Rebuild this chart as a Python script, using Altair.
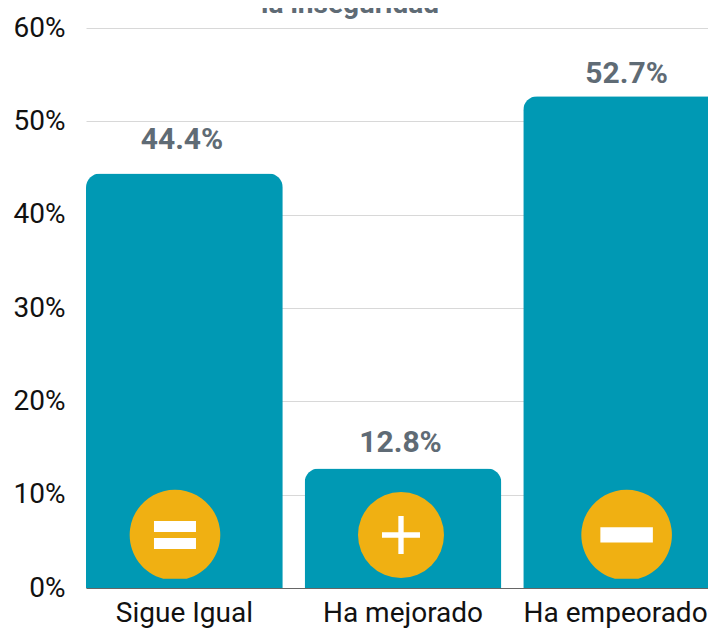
import altair as alt
import pandas as pd

categories = ["Sigue Igual", "Ha mejorado", "Ha empeorado"]
values = [44.4, 12.8, 52.7]
value_labels = ["44.4%", "12.8%", "52.7%"]
y_ticks = [0, 10, 20, 30, 40, 50, 60]
icon_level = 5.68
title_text = "la inseguridad"

TEAL = "#0099B4"
AMBER = "#F0B012"
SLATE = "#5F6B75"
FONT = "Roboto"

EQUAL = "M-1,-0.67 H1 V-0.14 H-1 Z M-1,0.14 H1 V0.67 H-1 Z"
PLUS = "M-0.14,-1 H0.14 V-0.14 H1 V0.14 H0.14 V1 H-0.14 V0.14 H-1 V-0.14 H-0.14 Z"
MINUS = "M-1,-0.29 H1 V0.29 H-1 Z"
DISC_FLAT = "M-0.258,0.966 A1,1 0 1 1 0.258,0.966 Z"

df = pd.DataFrame({"cat": categories, "val": values, "lab": value_labels})
df["icon"] = icon_level

x_scale = alt.Scale(paddingInner=0.1, paddingOuter=0, range=[0, 634])
y_scale = alt.Scale(domain=[0, 60], nice=False)
x_axis = alt.Axis(
    title=None, labelAngle=0, ticks=False, labelPadding=11, labelFontSize=28,
    labelFont=FONT, labelColor="#111111", domainColor="#666666", grid=False,
    labelLimit=400, labelBound=False, labelOverlap=False,
    labelOffset={"condition": {"test": "datum.value == 'Ha empeorado'", "value": -6}, "value": 0},
)
y_axis = alt.Axis(
    title=None, values=y_ticks, labelExpr="datum.value + '%'",
    ticks=False, domain=False, labelPadding=21, labelFontSize=28, labelFont=FONT,
    labelColor="#111111", gridColor="#D8D8D8", gridWidth=1,
)
x = alt.X("cat:N", sort=categories, scale=x_scale, axis=x_axis)
y = alt.Y("val:Q", scale=y_scale, axis=y_axis)
y_icon = alt.Y("icon:Q", scale=y_scale, axis=y_axis)

bars = alt.Chart(df).mark_bar(
    color=TEAL, cornerRadiusTopLeft=14, cornerRadiusTopRight=14
).encode(x=x, y=y)

layers = [bars]
label_shift = [-2.4, -2.5, 5]
label_lift = [-33.6, -25.5, -22]
circle_shift = [-9.4, -2, 5]
disc_shape = [DISC_FLAT, "circle", DISC_FLAT]
disc_diameter = [90.6, 86, 90.6]
glyph_size = [42, 38, 52.5]
glyphs = [EQUAL, PLUS, MINUS]

for i, cat in enumerate(categories):
    row = df[df["cat"] == cat]
    base = alt.Chart(row)
    layers.append(
        base.mark_text(
            font=FONT, fontSize=30, fontWeight="bold", color=SLATE,
            baseline="middle", dy=label_lift[i], xOffset=label_shift[i],
        ).encode(x=x, y=y, text="lab:N")
    )
    layers.append(
        base.mark_point(
            shape=disc_shape[i], filled=True, fill=AMBER, opacity=1, strokeWidth=0,
            size=disc_diameter[i] ** 2, xOffset=circle_shift[i],
        ).encode(x=x, y=y_icon)
    )
    layers.append(
        base.mark_point(
            shape=glyphs[i], filled=True, fill="#FFFFFF", opacity=1, strokeWidth=0,
            size=glyph_size[i] ** 2, xOffset=circle_shift[i],
        ).encode(x=x, y=y_icon)
    )

chart = (
    alt.layer(*layers)
    .properties(
        width=622,
        height=560,
        background="#FFFFFF",
        padding={"left": 78, "top": 20, "right": 0, "bottom": 41},
        autosize=alt.AutoSizeParams(type="none"),
        title=alt.TitleParams(
            title_text, font=FONT, fontSize=28, fontWeight="bold", color=SLATE,
            anchor="middle", dx=-47, offset=-5,
        ),
    )
    .configure_view(strokeWidth=0, stroke="transparent")
)

chart.save("out.html", embed_options={"renderer": "svg", "actions": False})
